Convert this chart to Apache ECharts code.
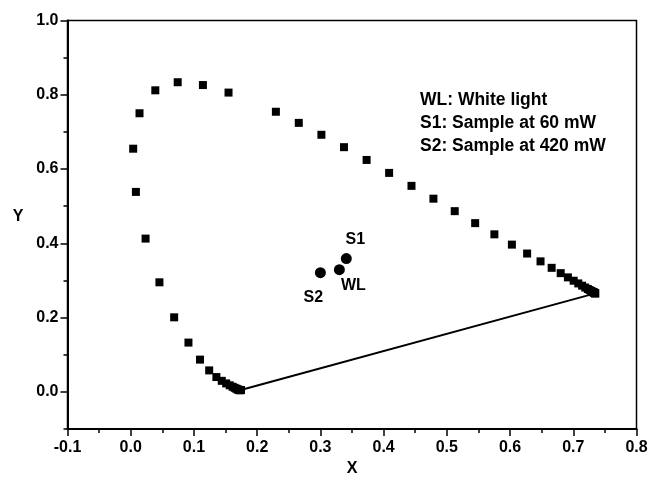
<!DOCTYPE html>
<html>
<head>
<meta charset="utf-8">
<script src="https://cdn.jsdelivr.net/npm/echarts@6/dist/echarts.min.js"></script>
<style>
  html, body { margin: 0; padding: 0; background: #fff; }
  #chart { width: 649px; height: 482px; }
</style>
</head>
<body>
<div id="chart"></div>
<script>
// CIE 1931 spectral locus (chromaticity x, y), 380–700 nm
const locusX = [0.1741, 0.1740, 0.1738, 0.1736, 0.1733, 0.1730, 0.1726, 0.1721, 0.1714, 0.1703,
  0.1689, 0.1669, 0.1644, 0.1611, 0.1566, 0.1510, 0.1440, 0.1355, 0.1241, 0.1096,
  0.0913, 0.0687, 0.0454, 0.0235, 0.0082, 0.0039, 0.0139, 0.0389, 0.0743, 0.1142,
  0.1547, 0.2296, 0.2658, 0.3016, 0.3373, 0.3731, 0.4087, 0.4441, 0.4788, 0.5125,
  0.5448, 0.5752, 0.6029, 0.6270, 0.6482, 0.6658, 0.6801, 0.6915, 0.7006, 0.7079,
  0.7140, 0.7190, 0.7230, 0.7260, 0.7283, 0.7300, 0.7311, 0.7320, 0.7327, 0.7334,
  0.7340, 0.7344, 0.7346, 0.7347];
const locusY = [0.0050, 0.0050, 0.0049, 0.0049, 0.0048, 0.0048, 0.0048, 0.0048, 0.0051, 0.0058,
  0.0069, 0.0086, 0.0109, 0.0138, 0.0177, 0.0227, 0.0297, 0.0399, 0.0578, 0.0868,
  0.1327, 0.2007, 0.2950, 0.4127, 0.5384, 0.6548, 0.7502, 0.8120, 0.8338, 0.8262,
  0.8059, 0.7543, 0.7243, 0.6923, 0.6589, 0.6245, 0.5896, 0.5547, 0.5202, 0.4866,
  0.4544, 0.4242, 0.3965, 0.3725, 0.3514, 0.3340, 0.3197, 0.3083, 0.2993, 0.2920,
  0.2859, 0.2809, 0.2770, 0.2740, 0.2717, 0.2700, 0.2689, 0.2680, 0.2673, 0.2666,
  0.2660, 0.2656, 0.2654, 0.2653];

// Line of purples: joins the two ends of the locus
const purpleX = [0.1741, 0.7347];
const purpleY = [0.0050, 0.2653];

// Measured colour coordinates
const sampleNames = ['WL', 'S1', 'S2'];
const sampleX = [0.330, 0.341, 0.300];
const sampleY = [0.329, 0.359, 0.321];

const legendLines = ['WL: White light', 'S1: Sample at 60 mW', 'S2: Sample at 420 mW'];

const xTicks = [-0.1, 0.0, 0.1, 0.2, 0.3, 0.4, 0.5, 0.6, 0.7, 0.8];
const xMinorTicks = [-0.05, 0.05, 0.15, 0.25, 0.35, 0.45, 0.55, 0.65, 0.75];
const yTicks = [0.0, 0.2, 0.4, 0.6, 0.8, 1.0];
const yMinorTicks = [-0.1, 0.1, 0.3, 0.5, 0.7, 0.9];

const FONT = '"Liberation Sans", Arial, sans-serif';
const zip = (a, b) => a.map((v, i) => [v, b[i]]);

// label offsets around each measured point
const labelOffsets = { WL: [14, 16], S1: [9, -19], S2: [-7, 25] };

const chart = echarts.init(document.getElementById('chart'), null, { renderer: 'canvas' });

const axisText = { color: '#000', fontFamily: FONT, fontWeight: 'bold', fontSize: 16 };

chart.setOption({
  animation: false,
  backgroundColor: '#fff',
  grid: {
    left: 67.5, right: 12.5, top: 20.5, bottom: 53,
    outerBoundsMode: 'none', containLabel: false,
    show: true, borderColor: '#000', borderWidth: 1.5, backgroundColor: 'transparent'
  },
  xAxis: [{
    type: 'value', min: -0.1, max: 0.8,
    name: 'X', nameLocation: 'middle', nameGap: 32,
    nameTextStyle: Object.assign({}, axisText, { fontSize: 16 }),
    axisLine: { show: true, onZero: false, lineStyle: { color: '#000', width: 2 } },
    axisTick: { show: true, inside: false, length: 7, customValues: xTicks, lineStyle: { color: '#000', width: 1.5 } },
    axisLabel: Object.assign({ customValues: xTicks, margin: 11, formatter: v => v.toFixed(1) }, axisText),
    splitLine: { show: false }
  }, {
    type: 'value', min: -0.1, max: 0.8, position: 'bottom',
    axisLine: { show: false, onZero: false },
    axisTick: { show: true, inside: false, length: 4, customValues: xMinorTicks, lineStyle: { color: '#000', width: 1.5 } },
    axisLabel: { show: false },
    splitLine: { show: false }
  }],
  yAxis: [{
    type: 'value', min: -0.1, max: 1.0,
    name: 'Y', nameLocation: 'middle', nameGap: 44, nameRotate: 0,
    nameTextStyle: Object.assign({}, axisText, { fontSize: 16, verticalAlign: 'bottom' }),
    axisLine: { show: true, onZero: false, lineStyle: { color: '#000', width: 2 } },
    axisTick: { show: true, inside: false, length: 7, customValues: yTicks, lineStyle: { color: '#000', width: 1.5 } },
    axisLabel: Object.assign({ customValues: yTicks, margin: 9, formatter: v => v.toFixed(1) }, axisText),
    splitLine: { show: false }
  }, {
    type: 'value', min: -0.1, max: 1.0, position: 'left',
    axisLine: { show: false, onZero: false },
    axisTick: { show: true, inside: false, length: 4, customValues: yMinorTicks, lineStyle: { color: '#000', width: 1.5 } },
    axisLabel: { show: false },
    splitLine: { show: false }
  }],
  graphic: legendLines.map((t, i) => ({
    type: 'text', left: 420, top: 91 + i * 23,
    style: { text: t, fill: '#000', font: 'bold 17.5px ' + FONT }
  })),
  series: [{
    type: 'line',
    data: zip(purpleX, purpleY),
    showSymbol: false, symbol: 'none',
    lineStyle: { color: '#000', width: 2 },
    z: 1
  }, {
    type: 'scatter',
    data: zip(locusX, locusY),
    symbol: 'rect', symbolSize: 8,
    itemStyle: { color: '#000', opacity: 1 },
    z: 2
  }, {
    type: 'scatter',
    data: sampleNames.map((n, i) => ({
      name: n, value: [sampleX[i], sampleY[i]],
      label: { show: true, formatter: n, position: 'inside', offset: labelOffsets[n],
        color: '#000', fontFamily: FONT, fontWeight: 'bold', fontSize: 16 }
    })),
    symbol: 'circle', symbolSize: 11,
    itemStyle: { color: '#000', opacity: 1 },
    z: 3
  }]
});
</script>
</body>
</html>
